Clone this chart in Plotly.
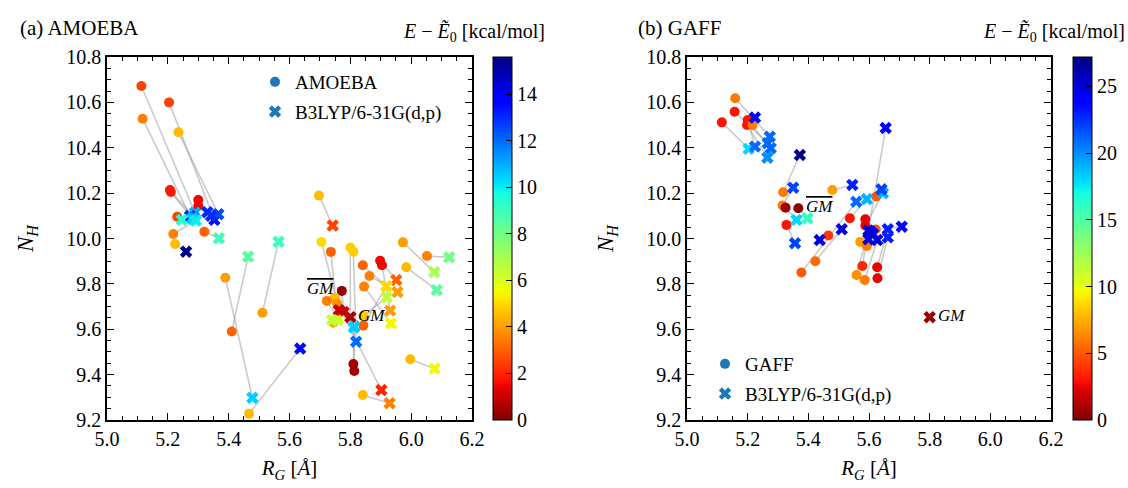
import numpy as np
import plotly.graph_objects as go

# ---------------- (a) AMOEBA vs B3LYP ----------------
amoeba_rg = [5.113, 5.204, 5.117, 5.235, 5.207, 5.210, 5.300, 5.300, 5.231, 5.218,
             5.224, 5.320, 5.389, 5.410, 5.511, 5.467, 5.697, 5.705, 5.736, 5.800,
             5.810, 5.898, 5.904, 5.841, 5.973, 6.052, 5.984, 5.863, 5.845, 5.772,
             5.748, 5.723, 5.756, 5.744, 5.843, 5.843, 5.810, 5.813, 5.997, 5.841]
amoeba_nh = [10.672, 10.600, 10.528, 10.468, 10.214, 10.205, 10.170, 10.143, 10.096, 10.020,
             9.976, 10.030, 9.827, 9.590, 9.673, 9.227, 10.189, 9.985, 9.941, 9.960,
             9.942, 9.902, 9.882, 9.882, 9.983, 9.923, 9.873, 9.835, 9.788, 9.769,
             9.739, 9.725, 9.714, 9.629, 9.660, 9.616, 9.447, 9.416, 9.468, 9.310]
amoeba_e = [2.5, 2.5, 3.5, 4.5, 1.8, 1.8, 1.5, 1.5, 2.5, 3.5,
            4.5, 3.0, 4.0, 3.0, 4.0, 4.5, 4.5, 5.0, 3.0, 4.8,
            4.8, 1.5, 1.5, 3.0, 4.0, 3.5, 4.5, 3.5, 3.5, 0.3,
            4.5, 3.5, 3.8, 4.2, 4.8, 3.0, 0.5, 0.5, 4.5, 4.5]
amoeba_dft_rg = [5.289, 5.353, 5.273, 5.366, 5.285, 5.280, 5.330, 5.342, 5.246, 5.292,
                 5.260, 5.368, 5.478, 5.464, 5.564, 5.635, 5.742, 5.764, 5.758, 5.800,
                 5.819, 5.951, 5.931, 5.920, 6.076, 6.125, 6.084, 5.955, 5.933, 5.778,
                 5.902, 5.760, 5.762, 5.740, 5.920, 5.918, 5.813, 5.812, 6.077, 5.929]
amoeba_dft_nh = [10.114, 10.082, 10.099, 10.107, 10.095, 10.088, 10.116, 10.100, 10.082, 10.079,
                 9.942, 10.001, 9.298, 9.920, 9.986, 9.515, 10.057, 9.682, 9.641, 9.653,
                 9.545, 9.817, 9.682, 9.788, 9.852, 9.917, 9.773, 9.764, 9.626, 9.675,
                 9.332, 9.645, 9.684, 9.640, 9.741, 9.790, 9.612, 9.608, 9.426, 9.274]
amoeba_dft_e = [11.0, 13.5, 13.0, 12.5, 11.5, 10.5, 13.0, 13.0, 9.5, 10.0,
                15.5, 9.0, 10.5, 8.5, 9.0, 13.5, 2.5, 0.8, 6.5, 0.5,
                12.0, 3.0, 4.0, 5.5, 7.0, 8.0, 8.5, 4.0, 5.5, 1.0,
                2.0, 6.0, 1.0, 6.5, 6.5, 5.0, 10.5, 10.5, 5.5, 3.5]

# ---------------- (b) GAFF vs B3LYP ----------------
# The last B3LYP structure (global minimum) has no GAFF partner.
gaff_rg = [5.159, 5.157, 5.115, 5.202, 5.200, 5.198, 5.216, 5.317, 5.315, 5.325,
           5.367, 5.328, 5.377, 5.423, 5.466, 5.479, 5.537, 5.588, 5.588, 5.624,
           5.571, 5.593, 5.578, 5.559, 5.586, 5.627, 5.628, 5.622, None]
gaff_nh = [10.618, 10.559, 10.512, 10.515, 10.522, 10.500, 10.500, 10.204, 10.146, 10.136,
           10.133, 10.060, 9.850, 9.900, 10.013, 10.214, 10.089, 10.085, 10.057, 10.185,
           9.985, 9.967, 9.879, 9.839, 9.817, 9.873, 9.825, 10.040, None]
gaff_e = [6.0, 3.0, 3.0, 3.0, 3.0, 3.0, 6.0, 6.0, 6.0, 0.8,
          0.3, 3.0, 5.0, 5.5, 4.0, 7.0, 3.0, 2.5, 2.5, 5.0,
          7.0, 6.0, 3.5, 6.5, 6.0, 2.5, 2.5, 5.0, None]
gaff_dft_rg = [5.273, 5.266, 5.203, 5.224, 5.276, 5.265, 5.224, 5.372, 5.350, 5.361,
               5.397, 5.356, 5.558, 5.510, 5.4375, 5.545, 5.593, 5.605, 5.646, 5.641,
               5.598, 5.613, 5.655, 5.598, 5.627, 5.662, 5.662, 5.708, 5.800]
gaff_dft_nh = [10.449, 10.420, 10.395, 10.405, 10.398, 10.356, 10.533, 10.368, 10.224, 10.082,
               10.089, 9.979, 10.162, 10.041, 9.993, 10.236, 10.174, 10.030, 10.200, 10.217,
               9.997, 10.020, 10.487, 10.035, 9.993, 10.041, 10.005, 10.052, 9.653]
gaff_dft_e = [21.0, 21.0, 18.0, 21.0, 21.0, 20.0, 24.0, 27.0, 22.0, 18.0,
              16.0, 22.0, 21.0, 25.0, 25.0, 23.0, 19.0, 25.0, 19.0, 22.0,
              25.0, 25.0, 24.0, 25.0, 25.0, 23.0, 23.0, 24.0, 0.5]

E_MAX_A = 15.6
E_MAX_B = 27.2

# Labelled structures: (x, y, kind, side)
labels_a = [(5.772, 9.769, "GMBAR", "left"), (5.800, 9.653, "GM", "right")]
labels_b = [(5.367, 10.133, "GMBAR", "right"), (5.800, 9.653, "GM", "right")]

FONT = "Liberation Serif"
LEGEND_BLUE = "#1f77b4"


def jet_reversed():
    # matplotlib 'jet' segment data, sampled and reversed
    rx, ry = [0, 0.35, 0.66, 0.89, 1], [0, 0, 1, 1, 0.5]
    gx, gy = [0, 0.125, 0.375, 0.64, 0.91, 1], [0, 0, 1, 1, 0, 0]
    bx, by = [0, 0.11, 0.34, 0.65, 1], [0.5, 1, 1, 0, 0]
    scale = []
    for t in np.linspace(0, 1, 101):
        s = 1 - t
        r = np.interp(s, rx, ry)
        g = np.interp(s, gx, gy)
        b = np.interp(s, bx, by)
        scale.append([float(t), f"rgb({int(round(r*255))},{int(round(g*255))},{int(round(b*255))})"])
    return scale


JET_R = jet_reversed()


def present(xs, ys, cs):
    keep = [i for i, v in enumerate(xs) if v is not None]
    return [xs[i] for i in keep], [ys[i] for i in keep], [cs[i] for i in keep]


def segments(x1, y1, x2, y2):
    xs, ys = [], []
    for a, b, c, d in zip(x1, y1, x2, y2):
        if a is None or c is None:
            continue
        xs += [a, c, None]
        ys += [b, d, None]
    return xs, ys


fig = go.Figure()


def add_panel(xa, ya, cax, legend, ff_name, rg, nh, e, drg, dnh, de):
    lx, ly = segments(rg, nh, drg, dnh)
    fig.add_trace(go.Scatter(x=lx, y=ly, mode="lines", xaxis=xa, yaxis=ya,
                             line=dict(color="rgba(160,160,160,0.55)", width=1.6),
                             showlegend=False, hoverinfo="skip"))
    cx, cy, ce = present(rg, nh, e)
    fig.add_trace(go.Scatter(x=cx, y=cy, mode="markers", xaxis=xa, yaxis=ya,
                             marker=dict(symbol="circle", size=10, color=ce,
                                         coloraxis=cax, line=dict(width=0)),
                             showlegend=False))
    dx, dy, dc = present(drg, dnh, de)
    fig.add_trace(go.Scatter(x=dx, y=dy, mode="markers", xaxis=xa, yaxis=ya,
                             marker=dict(symbol="x", size=11, color=dc,
                                         coloraxis=cax, line=dict(width=0)),
                             showlegend=False))
    # legend entries
    fig.add_trace(go.Scatter(x=[None], y=[None], mode="markers", xaxis=xa, yaxis=ya,
                             name=ff_name, legend=legend, legendgroup=ff_name,
                             marker=dict(symbol="circle", size=10, color=LEGEND_BLUE)))
    fig.add_trace(go.Scatter(x=[None], y=[None], mode="markers", xaxis=xa, yaxis=ya,
                             name="B3LYP/6-31G(d,p)", legend=legend,
                             legendgroup=ff_name + "-dft",
                             marker=dict(symbol="x", size=11, color=LEGEND_BLUE)))


add_panel("x", "y", "coloraxis", "legend", "AMOEBA",
          amoeba_rg, amoeba_nh, amoeba_e, amoeba_dft_rg, amoeba_dft_nh, amoeba_dft_e)
add_panel("x2", "y2", "coloraxis2", "legend2", "GAFF",
          gaff_rg, gaff_nh, gaff_e, gaff_dft_rg, gaff_dft_nh, gaff_dft_e)

W, H = 1128, 488
Y_TOP, Y_BOT = 57, 420
ydom = [1 - Y_BOT / H, 1 - Y_TOP / H]
xdom_a = [107 / W, 472 / W]
xdom_b = [687 / W, 1051 / W]

tickfont = dict(family=FONT, size=20, color="black")


def xaxis_cfg(dom, anchor):
    return dict(domain=dom, anchor=anchor, range=[5.0, 6.2], dtick=0.2, tick0=5.0,
                tickformat=".1f", ticks="inside", ticklen=7, tickwidth=1.2,
                tickcolor="black", showline=True, linecolor="black", linewidth=1.5,
                mirror="allticks", showgrid=False, zeroline=False, tickfont=tickfont,
                automargin=False,
                minor=dict(ticks="inside", ticklen=4, dtick=0.05, tickcolor="black",
                           tickwidth=1, showgrid=False),
                title=dict(text="<i>R</i><sub><i>G</i></sub> [<i>Å</i>]",
                           font=dict(family=FONT, size=21, color="black"), standoff=12))


def yaxis_cfg(anchor):
    return dict(domain=ydom, anchor=anchor, range=[9.2, 10.8], dtick=0.2, tick0=9.2,
                tickformat=".1f", ticks="inside", ticklen=7, tickwidth=1.2,
                tickcolor="black", showline=True, linecolor="black", linewidth=1.5,
                mirror="allticks", showgrid=False, zeroline=False, tickfont=tickfont,
                automargin=False,
                minor=dict(ticks="inside", ticklen=4, dtick=0.05, tickcolor="black",
                           tickwidth=1, showgrid=False),
                title=dict(text="<i>N</i><sub><i>H</i></sub>",
                           font=dict(family=FONT, size=23, color="black"), standoff=26))


def cbar(x0, dtick):
    return dict(x=x0 / W, xanchor="left", thickness=19, thicknessmode="pixels",
                len=(Y_BOT - Y_TOP) / H, lenmode="fraction",
                y=1 - (Y_TOP + Y_BOT) / 2 / H, yanchor="middle",
                outlinecolor="black", outlinewidth=1, ticks="inside", ticklen=6,
                tickcolor="black", tickwidth=1.2, dtick=dtick, tick0=0,
                tickfont=dict(family=FONT, size=20, color="black"), ypad=0, xpad=0)


legend_font = dict(family=FONT, size=19, color="black")

fig.update_layout(
    width=W, height=H, margin=dict(l=0, r=0, t=0, b=0, autoexpand=False),
    paper_bgcolor="white", plot_bgcolor="white",
    xaxis=xaxis_cfg(xdom_a, "y"), yaxis=yaxis_cfg("x"),
    xaxis2=xaxis_cfg(xdom_b, "y2"), yaxis2=yaxis_cfg("x2"),
    coloraxis=dict(colorscale=JET_R, cmin=0, cmax=E_MAX_A, colorbar=cbar(493, 2)),
    coloraxis2=dict(colorscale=JET_R, cmin=0, cmax=E_MAX_B, colorbar=cbar(1073, 5)),
    legend=dict(x=255 / W, y=1 - 63 / H, xanchor="left", yanchor="top",
                bgcolor="rgba(0,0,0,0)", font=legend_font, itemsizing="trace",
                tracegroupgap=2),
    legend2=dict(x=705 / W, y=1 - 345 / H, xanchor="left", yanchor="top",
                 bgcolor="rgba(0,0,0,0)", font=legend_font, itemsizing="trace",
                 tracegroupgap=2),
    showlegend=True,
)

annots = []
for x0, text in [(18, "(a) AMOEBA"), (636, "(b) GAFF")]:
    annots.append(dict(x=x0 / W, y=1 - 28 / H, xref="paper", yref="paper",
                       xanchor="left", yanchor="middle", showarrow=False, text=text,
                       font=dict(family=FONT, size=21, color="black")))
for x1 in [547, 1127]:
    annots.append(dict(x=x1 / W, y=1 - 32 / H, xref="paper", yref="paper",
                       xanchor="right", yanchor="middle", showarrow=False,
                       text="<i>E</i> − <i>Ẽ</i><sub>0</sub> [kcal/mol]",
                       font=dict(family=FONT, size=20, color="black")))


def gm_text(kind):
    if kind == "GMBAR":
        return "<span style='text-decoration:overline'><i>GM</i></span>"
    return "<i>GM</i>"


for (xr, yr), labels in [(("x", "y"), labels_a), (("x2", "y2"), labels_b)]:
    for x0, y0, kind, side in labels:
        annots.append(dict(x=x0, y=y0, xref=xr, yref=yr, showarrow=False,
                           text=gm_text(kind),
                           xanchor="right" if side == "left" else "left",
                           xshift=-6 if side == "left" else 6, yshift=2,
                           font=dict(family=FONT, size=17, color="black")))

fig.update_layout(annotations=annots)

fig.write_html("out.html")
